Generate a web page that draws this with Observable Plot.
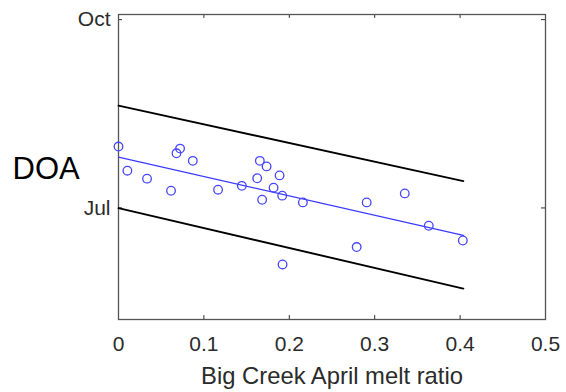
<!DOCTYPE html>
<html>
<head>
<meta charset="utf-8">
<script src="https://cdn.jsdelivr.net/npm/d3@7"></script>
<script src="https://cdn.jsdelivr.net/npm/@observablehq/plot@0.6"></script>
<style>
  html, body { margin: 0; padding: 0; background: #fff; }
  #chart svg { display: block; }
</style>
</head>
<body>
<div id="chart"></div>
<script>
// Observations: April melt ratio vs. day of year (DOA)
const meltRatio = [0.000, 0.0104, 0.0334, 0.0615, 0.0679, 0.0721, 0.0870, 0.1166, 0.1444, 0.1655,
  0.1624, 0.1734, 0.1682, 0.1886, 0.1816, 0.1917, 0.1921, 0.2159, 0.2906, 0.2789, 0.3352, 0.3633, 0.4032];
const doaDay = [212.0, 200.2, 196.3, 190.4, 208.7, 211.0, 205.0, 190.9, 192.8, 205.0,
  196.5, 202.3, 186.0, 197.9, 191.9, 188.0, 154.4, 184.7, 184.7, 162.9, 189.1, 173.3, 166.1];

// Fitted line and bounds at the ends of the data range
const fitX = [0, 0.4038];
const fitY = [206.8, 168.6];
const upperY = [232.0, 195.1];
const lowerY = [181.9, 142.6];

// Axis ticks
const xTicks = [0, 0.1, 0.2, 0.3, 0.4, 0.5];
const yTicks = [182, 274];
const yTickLabels = ["Jul", "Oct"];

const xDomain = [0, 0.5];
const yDomain = [127.5, 276.5];

const points = meltRatio.map((x, i) => ({x, y: doaDay[i]}));
const fit = fitX.map((x, i) => ({x, y: fitY[i]}));
const upper = fitX.map((x, i) => ({x, y: upperY[i]}));
const lower = fitX.map((x, i) => ({x, y: lowerY[i]}));

const axisColor = "#2b2b2b";
const font = "Liberation Sans, Arial, Helvetica, sans-serif";
const tickLenX = 0.0047;
const tickLenY = 1.9;
const innerX = xTicks.slice(1, -1);

const chart = Plot.plot({
  width: 566,
  height: 392,
  marginLeft: 118,
  marginRight: 21,
  marginTop: 14,
  marginBottom: 73,
  style: {fontFamily: font, background: "#fff"},
  x: {domain: xDomain, axis: null},
  y: {domain: yDomain, axis: null},
  marks: [
    // inner ticks
    Plot.ruleX(innerX, {x: d => d, y1: yDomain[0], y2: yDomain[0] + tickLenY, stroke: axisColor, strokeWidth: 1}),
    Plot.ruleX(innerX, {x: d => d, y1: yDomain[1], y2: yDomain[1] - tickLenY, stroke: axisColor, strokeWidth: 1}),
    Plot.ruleY(yTicks, {y: d => d, x1: xDomain[0], x2: xDomain[0] + tickLenX, stroke: axisColor, strokeWidth: 1}),
    Plot.ruleY(yTicks, {y: d => d, x1: xDomain[1], x2: xDomain[1] - tickLenX, stroke: axisColor, strokeWidth: 1}),
    Plot.frame({stroke: "#555", strokeWidth: 1.3}),
    // bounds
    Plot.line(upper, {x: "x", y: "y", stroke: "#000", strokeWidth: 1.9}),
    Plot.line(lower, {x: "x", y: "y", stroke: "#000", strokeWidth: 1.9}),
    // fit
    Plot.line(fit, {x: "x", y: "y", stroke: "#3a3aff", strokeWidth: 1.3}),
    // points
    Plot.dot(points, {x: "x", y: "y", r: 4.3, stroke: "#4646ff", strokeWidth: 1.3, fill: "none"}),
    // tick labels
    Plot.text(xTicks, {x: d => d, frameAnchor: "bottom", dy: 25, text: d => d3.format("~g")(d),
      fontSize: 21, fill: axisColor, lineAnchor: "middle"}),
    Plot.text(yTicks, {y: d => d, frameAnchor: "left", dx: -8, textAnchor: "end",
      text: (d, i) => yTickLabels[i], fontSize: 21, fill: axisColor}),
    // axis titles
    Plot.text(["Big Creek April melt ratio"], {frameAnchor: "bottom", dy: 57, lineAnchor: "middle",
      fontSize: 23.8, fill: axisColor}),
    Plot.text(["DOA"], {frameAnchor: "left", dx: -106, dy: 2, textAnchor: "start",
      fontSize: 31, fill: "#000"})
  ]
});
document.getElementById("chart").appendChild(chart);
</script>
</body>
</html>
